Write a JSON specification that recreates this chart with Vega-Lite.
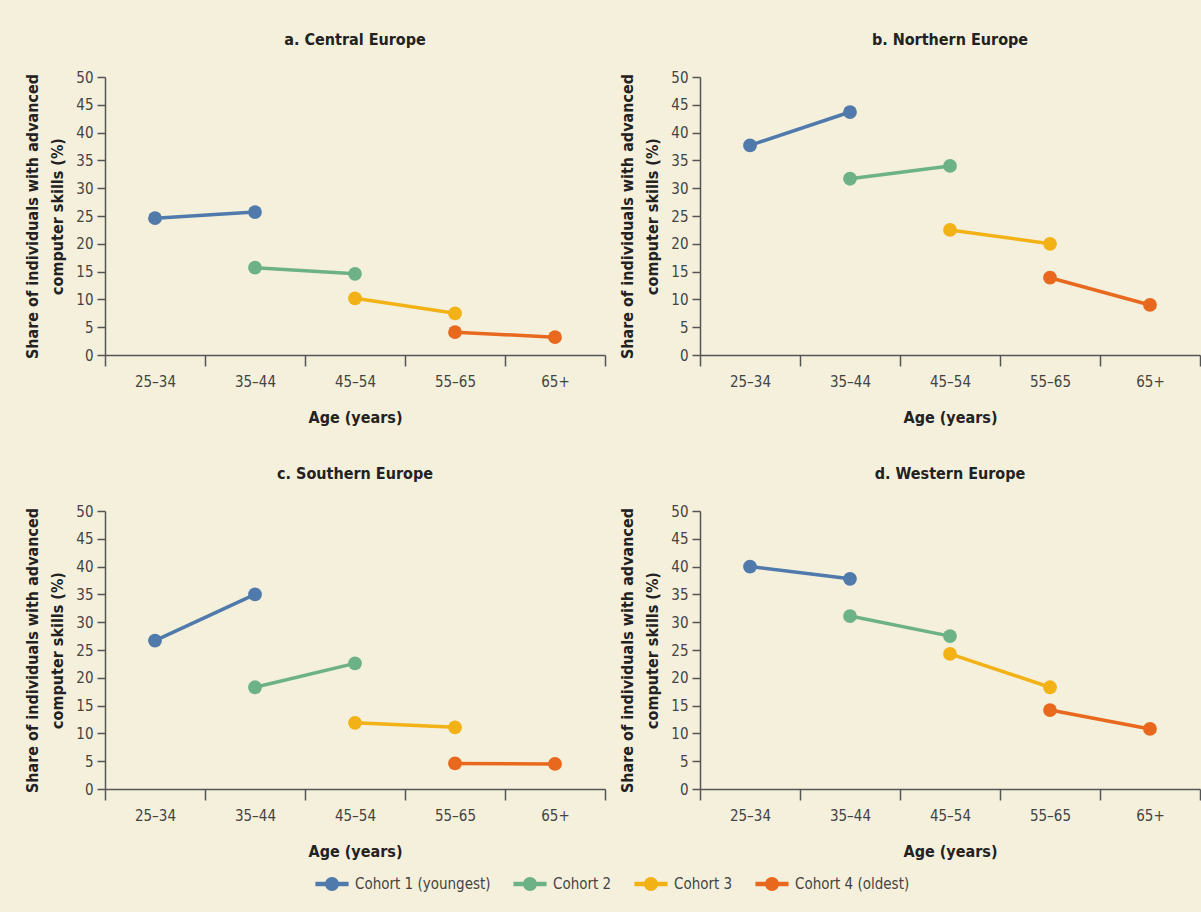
{
  "$schema": "https://vega.github.io/schema/vega-lite/v6.json",
  "background": "#f5f0dc",
  "padding": {"left": 24, "top": 32, "right": 9, "bottom": 28},
  "data": {"values": [
    {"region": "a. Central Europe", "age": "25–34", "cohort": "Cohort 1 (youngest)", "value": 24.6},
    {"region": "a. Central Europe", "age": "35–44", "cohort": "Cohort 1 (youngest)", "value": 25.7},
    {"region": "a. Central Europe", "age": "35–44", "cohort": "Cohort 2", "value": 15.7},
    {"region": "a. Central Europe", "age": "45–54", "cohort": "Cohort 2", "value": 14.6},
    {"region": "a. Central Europe", "age": "45–54", "cohort": "Cohort 3", "value": 10.2},
    {"region": "a. Central Europe", "age": "55–65", "cohort": "Cohort 3", "value": 7.5},
    {"region": "a. Central Europe", "age": "55–65", "cohort": "Cohort 4 (oldest)", "value": 4.1},
    {"region": "a. Central Europe", "age": "65+", "cohort": "Cohort 4 (oldest)", "value": 3.2},
    {"region": "b. Northern Europe", "age": "25–34", "cohort": "Cohort 1 (youngest)", "value": 37.7},
    {"region": "b. Northern Europe", "age": "35–44", "cohort": "Cohort 1 (youngest)", "value": 43.7},
    {"region": "b. Northern Europe", "age": "35–44", "cohort": "Cohort 2", "value": 31.7},
    {"region": "b. Northern Europe", "age": "45–54", "cohort": "Cohort 2", "value": 34.0},
    {"region": "b. Northern Europe", "age": "45–54", "cohort": "Cohort 3", "value": 22.5},
    {"region": "b. Northern Europe", "age": "55–65", "cohort": "Cohort 3", "value": 20.0},
    {"region": "b. Northern Europe", "age": "55–65", "cohort": "Cohort 4 (oldest)", "value": 13.9},
    {"region": "b. Northern Europe", "age": "65+", "cohort": "Cohort 4 (oldest)", "value": 9.0},
    {"region": "c. Southern Europe", "age": "25–34", "cohort": "Cohort 1 (youngest)", "value": 26.7},
    {"region": "c. Southern Europe", "age": "35–44", "cohort": "Cohort 1 (youngest)", "value": 35.0},
    {"region": "c. Southern Europe", "age": "35–44", "cohort": "Cohort 2", "value": 18.3},
    {"region": "c. Southern Europe", "age": "45–54", "cohort": "Cohort 2", "value": 22.6},
    {"region": "c. Southern Europe", "age": "45–54", "cohort": "Cohort 3", "value": 11.9},
    {"region": "c. Southern Europe", "age": "55–65", "cohort": "Cohort 3", "value": 11.1},
    {"region": "c. Southern Europe", "age": "55–65", "cohort": "Cohort 4 (oldest)", "value": 4.6},
    {"region": "c. Southern Europe", "age": "65+", "cohort": "Cohort 4 (oldest)", "value": 4.5},
    {"region": "d. Western Europe", "age": "25–34", "cohort": "Cohort 1 (youngest)", "value": 40.0},
    {"region": "d. Western Europe", "age": "35–44", "cohort": "Cohort 1 (youngest)", "value": 37.8},
    {"region": "d. Western Europe", "age": "35–44", "cohort": "Cohort 2", "value": 31.1},
    {"region": "d. Western Europe", "age": "45–54", "cohort": "Cohort 2", "value": 27.5},
    {"region": "d. Western Europe", "age": "45–54", "cohort": "Cohort 3", "value": 24.3},
    {"region": "d. Western Europe", "age": "55–65", "cohort": "Cohort 3", "value": 18.3},
    {"region": "d. Western Europe", "age": "55–65", "cohort": "Cohort 4 (oldest)", "value": 14.2},
    {"region": "d. Western Europe", "age": "65+", "cohort": "Cohort 4 (oldest)", "value": 10.8}
  ]},
  "facet": {"field": "region", "type": "nominal", "header": {"title": null, "labelFont": "Liberation Sans Narrow, DejaVu Sans Condensed, sans-serif", "labelFontSize": 16, "labelFontWeight": "bold", "labelColor": "#222", "labelPadding": 22}},
  "columns": 2,
  "spacing": {"column": 13, "row": 41},
  "resolve": {"axis": {"x": "independent", "y": "independent"}},
  "spec": {
    "width": 500,
    "height": 278,
    "encoding": {
      "x": {"field": "age", "type": "nominal", "sort": ["25–34", "35–44", "45–54", "55–65", "65+"],
        "scale": {"type": "band", "paddingInner": 0, "paddingOuter": 0},
        "axis": {"title": "Age (years)", "labelAngle": 0, "tickBand": "extent", "tickSize": 11, "labelPadding": 8, "titlePadding": 20}},
      "y": {"field": "value", "type": "quantitative",
        "scale": {"domain": [0, 50]},
        "axis": {"title": ["Share of individuals with advanced", "computer skills (%)"], "values": [0, 5, 10, 15, 20, 25, 30, 35, 40, 45, 50], "grid": false, "tickSize": 8, "labelPadding": 4, "titlePadding": 10, "titleLineHeight": 25}},
      "color": {"field": "cohort", "type": "nominal",
        "scale": {"domain": ["Cohort 1 (youngest)", "Cohort 2", "Cohort 3", "Cohort 4 (oldest)"], "range": ["#4f7aab", "#6db287", "#f2b216", "#e8691e"]},
        "legend": {"title": null, "orient": "bottom", "direction": "horizontal",
          "symbolType": "M-1,-0.13H1V0.13H-1Z M0.42,0A0.42,0.42 0 1,1 -0.42,0A0.42,0.42 0 1,1 0.42,0",
          "symbolSize": 1100, "symbolStrokeWidth": 0, "columnPadding": 22, "labelFontSize": 15, "labelOffset": 6, "offset": 8}}
    },
    "layer": [
      {"mark": {"type": "line", "strokeWidth": 3.5}, "encoding": {"detail": {"field": "cohort"}}},
      {"mark": {"type": "point", "filled": true, "opacity": 1, "size": 190}}
    ]
  },
  "config": {
    "view": {"stroke": null},
    "font": "Liberation Sans Narrow, DejaVu Sans Condensed, sans-serif",
    "axis": {"domainColor": "#555", "tickColor": "#555", "domainWidth": 1.5, "tickWidth": 1.5, "labelFontSize": 15, "labelColor": "#444", "titleFontSize": 16, "titleFontWeight": "bold", "titleColor": "#222"},
    "legend": {"labelColor": "#444", "layout": {"bottom": {"anchor": "middle"}}}
  }
}
